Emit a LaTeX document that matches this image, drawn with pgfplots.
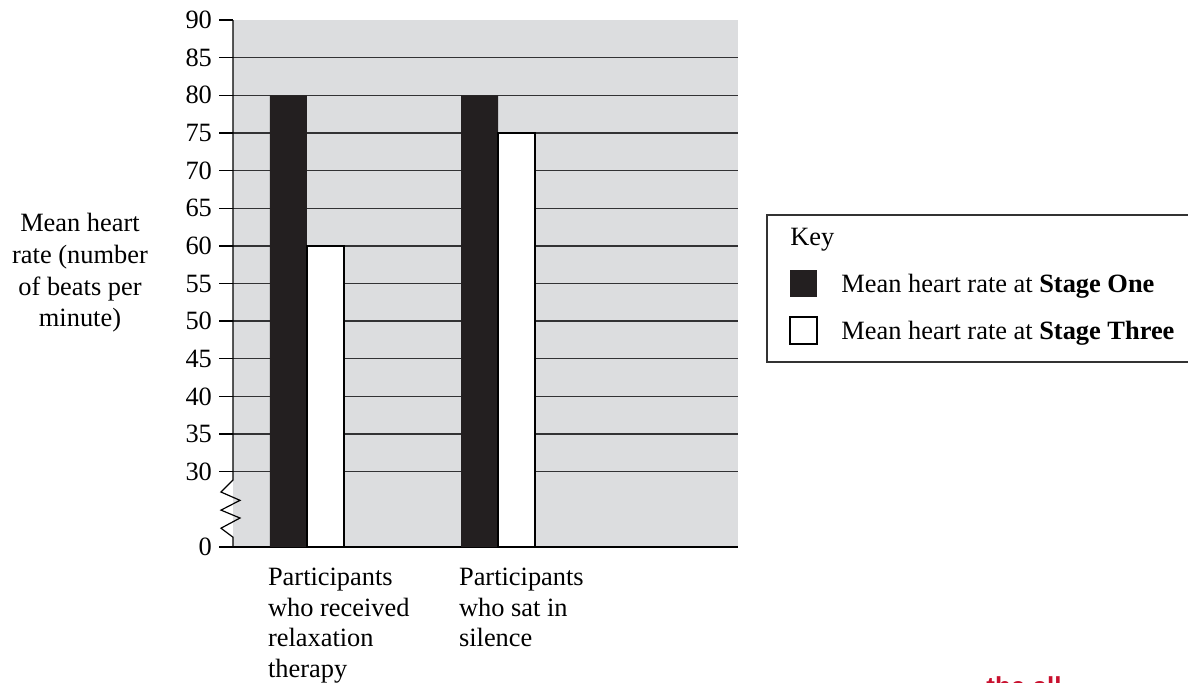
\documentclass[border=0pt]{standalone}
\usepackage{fontspec}
\setmainfont{Liberation Serif}
\newfontfamily\wmfont{Liberation Sans}
\usepackage{pgfplots}
\pgfplotsset{compat=1.18}
\definecolor{bggray}{RGB}{220,221,223}
\definecolor{barblack}{RGB}{35,31,32}
\definecolor{gridc}{RGB}{50,50,52}
\definecolor{wmred}{RGB}{200,16,46}
\begin{document}
\begin{tikzpicture}[font=\fontsize{13.2}{15.5}\selectfont]
\useasboundingbox (0,0) rectangle (594pt,341pt);
\begin{axis}[
  at={(116.5pt,67.5pt)}, anchor=south west,
  scale only axis, width=252.5pt, height=263.5pt,
  xmin=0.6126, xmax=3.2565, ymin=20, ymax=90,
  axis background/.style={fill=bggray},
  axis x line=bottom, axis y line=left,
  axis line style={-, draw=black, line width=0.7pt},
  y axis line style={draw=none},
  ybar=0pt, bar width=18.5pt,
  xtick={1,2},
  xticklabels={{Participants\\who received\\relaxation\\therapy},{Participants\\who sat in\\silence}},
  xticklabel style={align=left, anchor=north west, xshift=-23pt, font=\fontsize{13.2}{15.25}\selectfont},
  x tick style={draw=none},
  ytick={20,30,35,40,45,50,55,60,65,70,75,80,85},
  yticklabels={0,30,35,40,45,50,55,60,65,70,75,80,85},
  extra y ticks={90}, extra y tick labels={90},
  extra y tick style={grid=none},
  tick align=outside, major tick length=7pt,
  y tick style={draw=black, line width=0.7pt},
  ymajorgrids, grid style={draw=gridc, line width=0.7pt},
  clip mode=individual,
  yticklabel style={font=\fontsize{13.2}{15.5}\selectfont},
]
\addplot[fill=barblack, draw=none] coordinates {(1,80) (2,80)};
\addplot[fill=white, draw=black, line width=0.7pt] coordinates {(1,60) (2,75)};
\draw[line width=0.6pt, black] (axis cs:0.6126,90) -- (axis cs:0.6126,28.9)
  -- ([xshift=-6pt]axis cs:0.6126,27.3) -- ([xshift=3.5pt]axis cs:0.6126,26.2)
  -- ([xshift=-6pt]axis cs:0.6126,24.9) -- ([xshift=3.5pt]axis cs:0.6126,23.85)
  -- ([xshift=-6pt]axis cs:0.6126,22.5) -- (axis cs:0.6126,21.3) -- (axis cs:0.6126,20);
\end{axis}
% y label
\node[align=center, font=\fontsize{13.2}{15.85}\selectfont] at (40pt,204.5pt) {Mean heart\\rate (number\\of beats per\\minute)};
% key
\draw[line width=0.6pt, draw=black!80] (383.5pt,160pt) rectangle (600pt,233.5pt);
\node[anchor=base west, inner sep=0pt] at (395pt,218.5pt) {Key};
\fill[barblack] (395pt,192.5pt) rectangle (408.5pt,206pt);
\node[anchor=base west, inner sep=0pt] at (420.5pt,195pt) {Mean heart rate at \textbf{Stage One}};
\draw[line width=0.6pt, fill=white] (395pt,169pt) rectangle (408.5pt,182.5pt);
\node[anchor=base west, inner sep=0pt] at (420.5pt,171.5pt) {Mean heart rate at \textbf{Stage Three}};
% watermark fragment (cut off at the bottom edge, as in the reference)
\node[anchor=base west, inner sep=0pt, text=wmred, font=\wmfont\bfseries\fontsize{13}{15}\selectfont] at (493pt,-6.9pt) {the all};
\end{tikzpicture}
\end{document}
